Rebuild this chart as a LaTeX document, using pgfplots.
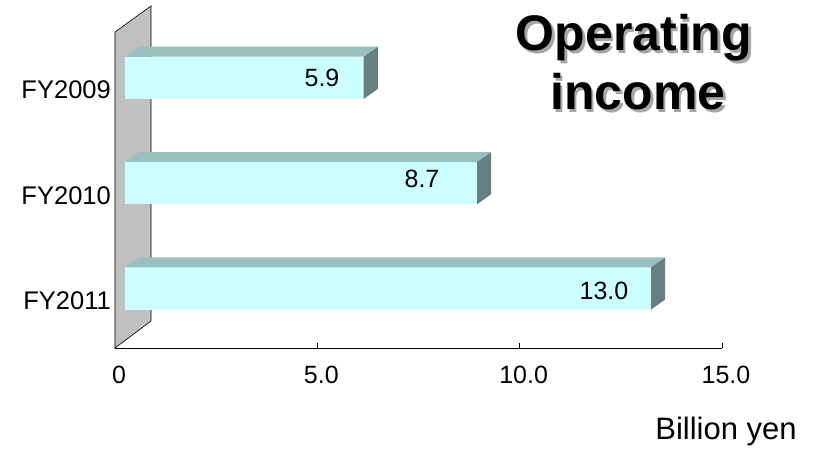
\documentclass[border=0pt]{standalone}
\usepackage{pgfplots}
\pgfplotsset{compat=1.18}
\usepackage{fontspec}
\setmainfont{Liberation Sans}
\definecolor{wallgray}{RGB}{192,192,192}
\definecolor{barfront}{RGB}{204,255,255}
\definecolor{bartop}{RGB}{153,192,191}
\definecolor{barside}{RGB}{102,128,128}
\begin{document}
\begin{tikzpicture}
\path[use as bounding box] (0,0) rectangle (815pt,449pt);
\begin{axis}[
  at={(115pt,101pt)}, anchor=south west,
  scale only axis, width=607pt, height=316pt,
  xmin=0, xmax=15, ymin=-0.5, ymax=2.5,
  clip=false,
  axis x line*=bottom, axis y line*=left,
  axis line style={black, line width=0.8pt, -},
  xtick={0,5,10,15}, xticklabels={0,5.0,10.0,15.0},
  ytick={-0.5,0.5,1.5,2.5}, yticklabels={},
  extra y ticks={0,1,2}, extra y tick labels={FY2011,FY2010,FY2009},
  extra y tick style={major tick length=0pt},
  tick align=inside,
  major tick length=5pt,
  every tick/.style={black, line width=0.6pt},
  /pgf/number format/assume math mode=true,
  xticklabel style={font=\fontsize{25}{25}\selectfont, anchor=center, inner sep=0pt, yshift=-27pt, xshift=4pt},
  yticklabel style={font=\fontsize{25.5}{26}\selectfont, anchor=east, inner sep=0pt, xshift=-4pt, yshift=-5.5pt},
]
% wall
\addplot[fill=wallgray, draw=black, line width=0.6pt] coordinates {(0,-0.5) (0.89,-0.244) (0.89,2.747) (0,2.5)} -- cycle;
% FY2009
\addplot[fill=barfront, draw=none] coordinates {(0.247,1.865) (6.147,1.865) (6.147,2.265) (0.247,2.265)} -- cycle;
\addplot[fill=bartop, draw=none] coordinates {(0.247,2.265) (6.147,2.265) (6.497,2.360) (0.597,2.360)} -- cycle;
\addplot[fill=barside, draw=none] coordinates {(6.147,1.865) (6.147,2.265) (6.497,2.360) (6.497,1.960)} -- cycle;
% FY2010
\addplot[fill=barfront, draw=none] coordinates {(0.247,0.865) (8.947,0.865) (8.947,1.265) (0.247,1.265)} -- cycle;
\addplot[fill=bartop, draw=none] coordinates {(0.247,1.265) (8.947,1.265) (9.297,1.360) (0.597,1.360)} -- cycle;
\addplot[fill=barside, draw=none] coordinates {(8.947,0.865) (8.947,1.265) (9.297,1.360) (9.297,0.960)} -- cycle;
% FY2011
\addplot[fill=barfront, draw=none] coordinates {(0.247,-0.135) (13.247,-0.135) (13.247,0.265) (0.247,0.265)} -- cycle;
\addplot[fill=bartop, draw=none] coordinates {(0.247,0.265) (13.247,0.265) (13.597,0.360) (0.597,0.360)} -- cycle;
\addplot[fill=barside, draw=none] coordinates {(13.247,-0.135) (13.247,0.265) (13.597,0.360) (13.597,-0.040)} -- cycle;
% value labels
\node[font=\fontsize{25}{25}\selectfont, inner sep=0pt] at (axis cs:5.115,2.063) {5.9};
\node[font=\fontsize{25}{25}\selectfont, inner sep=0pt] at (axis cs:7.586,1.109) {8.7};
\node[font=\fontsize{25}{25}\selectfont, inner sep=0pt] at (axis cs:12.084,0.041) {13.0};
\end{axis}
% title with shadow
\foreach \dx/\dy/\col in {2.5pt/-2.5pt/gray!70, 0pt/0pt/black} {
  \node[anchor=base, font=\fontsize{50}{50}\selectfont\bfseries, text=\col, inner sep=0pt] at ([shift={(\dx,\dy)}]634pt,398pt) {Operating};
  \node[anchor=base, font=\fontsize{50}{50}\selectfont\bfseries, text=\col, inner sep=0pt] at ([shift={(\dx,\dy)}]638pt,339pt) {income};
}
\node[anchor=base, font=\fontsize{31}{31}\selectfont, inner sep=0pt] at (726pt,9pt) {Billion yen};
\end{tikzpicture}
\end{document}
